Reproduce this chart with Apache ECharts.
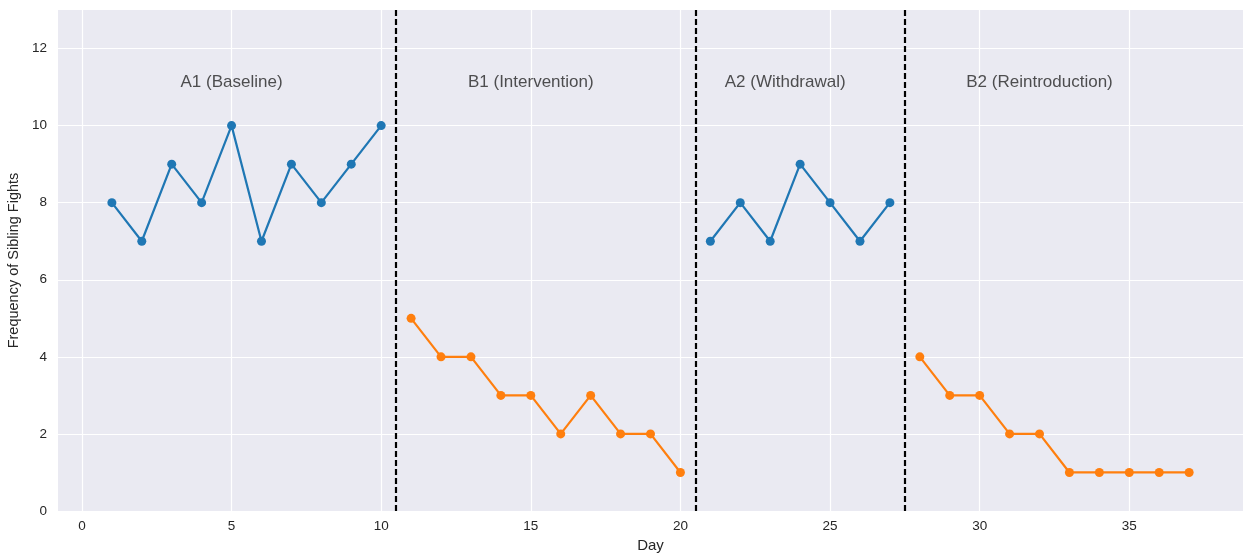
<!DOCTYPE html>
<html>
<head>
<meta charset="utf-8">
<script src="https://cdn.jsdelivr.net/npm/echarts@6/dist/echarts.min.js"></script>
<style>
  html, body { margin: 0; padding: 0; background: #fff; }
  #chart { width: 1243px; height: 554px; }
</style>
</head>
<body>
<div id="chart"></div>
<script>
// ─── Datos ──────────────────────────────────────────────────────────────────
const a1Days = [1, 2, 3, 4, 5, 6, 7, 8, 9, 10]
const a1Vals = [8, 7, 9, 8, 10, 7, 9, 8, 9, 10]
const b1Days = [11, 12, 13, 14, 15, 16, 17, 18, 19, 20]
const b1Vals = [5, 4, 4, 3, 3, 2, 3, 2, 2, 1]
const a2Days = [21, 22, 23, 24, 25, 26, 27]
const a2Vals = [7, 8, 7, 9, 8, 7, 8]
const b2Days = [28, 29, 30, 31, 32, 33, 34, 35, 36, 37]
const b2Vals = [4, 3, 3, 2, 2, 1, 1, 1, 1, 1]

const xTicks = [0, 5, 10, 15, 20, 25, 30, 35]
const yTicks = [0, 2, 4, 6, 8, 10, 12]

const phaseBreaks = [10.5, 20.5, 27.5]
const phaseNames  = ['A1 (Baseline)', 'B1 (Intervention)', 'A2 (Withdrawal)', 'B2 (Reintroduction)']
const phaseLabelX = [5, 15, 23.5, 32]
const phaseLabelY = 11

const BLUE = '#1f77b4', ORANGE = '#ff7f0e', TXT = '#262626'
const FONT = '"Liberation Sans", Arial, sans-serif'

const pairs = (xs, ys) => xs.map((x, i) => [x, ys[i]])

function phaseSeries(name, days, vals, color) {
  return {
    name, type: 'line', data: pairs(days, vals),
    symbol: 'circle', symbolSize: 9, showSymbol: true,
    lineStyle: { color, width: 2.2 }, itemStyle: { color },
    emphasis: { disabled: true }, z: 3,
  }
}

const gridLine = { color: '#ffffff', width: 1.2 }

const chart = echarts.init(document.getElementById('chart'), null, { renderer: 'canvas' })
chart.setOption({
  animation: false,
  backgroundColor: '#ffffff',
  textStyle: { fontFamily: FONT },
  grid: { left: 58, right: 0, top: 10, bottom: 43, backgroundColor: '#eaeaf2', show: true,
    borderWidth: 0, containLabel: false, outerBoundsMode: 'none' },
  xAxis: {
    type: 'value', min: -0.8, max: 38.8,
    name: 'Day', nameLocation: 'middle', nameGap: 26,
    nameTextStyle: { color: TXT, fontSize: 15, fontFamily: FONT },
    axisLine: { show: false },
    axisTick: { show: false, customValues: xTicks },
    axisLabel: { color: TXT, fontSize: 13.5, margin: 8, fontFamily: FONT, customValues: xTicks },
    splitLine: { show: true, lineStyle: gridLine, customValues: xTicks },
  },
  yAxis: {
    type: 'value', min: 0, max: 13,
    name: 'Frequency of Sibling Fights', nameLocation: 'middle', nameGap: 31,
    nameTextStyle: { color: TXT, fontSize: 14.5, fontFamily: FONT },
    axisLine: { show: false },
    axisTick: { show: false, customValues: yTicks },
    axisLabel: { color: TXT, fontSize: 13.5, margin: 11, fontFamily: FONT, customValues: yTicks },
    splitLine: { show: true, lineStyle: gridLine, customValues: yTicks },
  },
  series: [
    phaseSeries('A1', a1Days, a1Vals, BLUE),
    phaseSeries('B1', b1Days, b1Vals, ORANGE),
    phaseSeries('A2', a2Days, a2Vals, BLUE),
    phaseSeries('B2', b2Days, b2Vals, ORANGE),
    {
      type: 'scatter', symbolSize: 0, silent: true, z: 4,
      data: phaseNames.map((n, i) => ({ name: n, value: [phaseLabelX[i], phaseLabelY] })),
      label: { show: true, position: 'inside', offset: [0, -5], formatter: p => p.name,
        color: TXT, fontSize: 17, fontFamily: FONT },
      markLine: {
        silent: true, symbol: 'none', label: { show: false },
        lineStyle: { color: '#000000', type: [6, 3], width: 2.2 },
        data: phaseBreaks.map(x => ({ xAxis: x })),
      },
    },
  ],
})
</script>
</body>
</html>
